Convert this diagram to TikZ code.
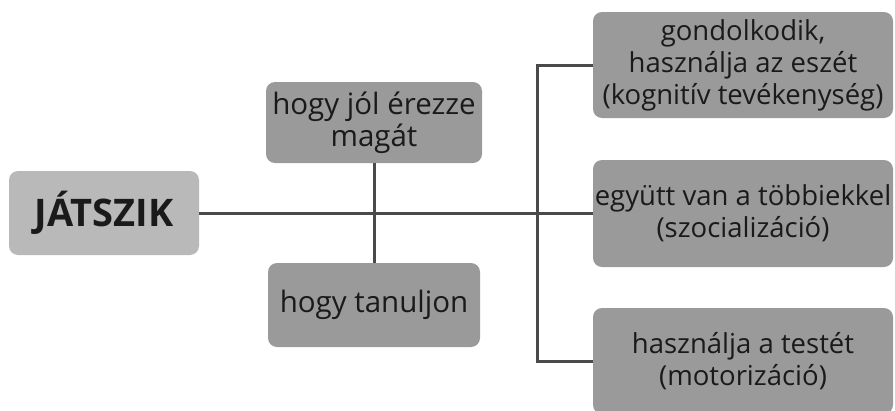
\documentclass[tikz,border=0pt]{standalone}
\usepackage{fontspec}
\setmainfont{Open Sans}
\begin{document}
\begin{tikzpicture}[x=1pt,y=-1pt,
  box/.style={draw=none,fill=boxgray,rounded corners=9pt,inner sep=0pt,align=center,
    text=textdark,font=\fontsize{27.5}{32}\selectfont},
  midbox/.style={box,font=\fontsize{29.5}{32}\selectfont},
  lightbox/.style={box,fill=lightgray},
  link/.style={draw=linegray,line width=3pt}]
\definecolor{boxgray}{HTML}{9A9A9A}
\definecolor{lightgray}{HTML}{B9B9B9}
\definecolor{textdark}{HTML}{1A1A1A}
\definecolor{linegray}{HTML}{4A4A4A}
\useasboundingbox (0,0) rectangle (895,410);
\begin{scope}
\clip (0,0) rectangle (895,410);
\node[lightbox,minimum width=190pt,minimum height=84pt,font=\fontsize{38}{40}\selectfont\bfseries] (J) at (104,213) {JÁTSZIK};
\node[midbox,minimum width=216pt,minimum height=81pt] (A) at (374,122.5) {hogy jól érezze\\magát};
\node[midbox,minimum width=212pt,minimum height=84pt] (B) at (374,305) {hogy tanuljon};
\node[box,minimum width=300pt,minimum height=106pt] (R1) at (743,65) {gondolkodik,\\használja az eszét\\(kognitív tevékenység)};
\node[box,minimum width=300pt,minimum height=107pt] (R2) at (743,213.5) {együtt van a többiekkel\\(szocializáció)};
\node[box,minimum width=300pt,minimum height=106pt] (R3) at (743,361) {használja a testét\\(motorizáció)};
\end{scope}
\coordinate (brk) at (537,65);
\draw[link] (J.east) -- (J.east -| R2.west);
\draw[link] (A.south) -- (B.north);
\draw[link] (R1.west) -- (brk) |- (R3.west);
\end{tikzpicture}
\end{document}
